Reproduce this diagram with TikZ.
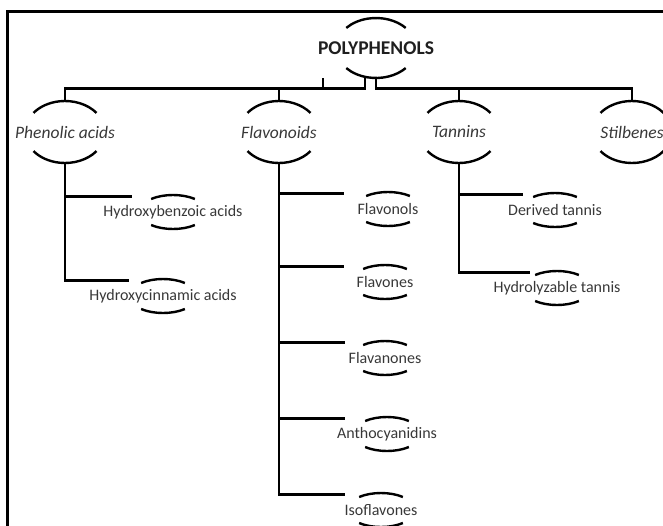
\documentclass[tikz,border=0pt]{standalone}
\usepackage{fontspec}
\setmainfont{Carlito}
\usetikzlibrary{calc}
\newcommand\lensarcs[4]{%
  \draw[arcline] ($(#1.center)+(#4:#2pt and #3pt)$) arc[start angle=#4, end angle=180-#4, x radius=#2pt, y radius=#3pt];
  \draw[arcline] ($(#1.center)+(-#4:#2pt and #3pt)$) arc[start angle=-#4, end angle=-180+#4, x radius=#2pt, y radius=#3pt];}
\begin{document}
\begin{tikzpicture}[x=1pt,y=-1pt,
  conn/.style={line width=2.7pt},
  arcline/.style={line width=2.4pt},
  frameline/.style={line width=3pt},
  lbl/.style={rectangle, inner sep=0pt, text=black!78},
  toplbl/.style={lbl, minimum height=60pt, font=\bfseries\fontsize{19.5}{22}\selectfont, text=black!88},
  midlbl/.style={lbl, minimum height=62pt, font=\itshape\fontsize{17.5}{20}\selectfont},
  leaflbl/.style={lbl, minimum height=31pt, font=\fontsize{16}{19}\selectfont}]
\useasboundingbox (0,0) rectangle (663,525);
\draw[frameline] (7,540) -- (7,11) -- (680,11);

% nodes
\node[toplbl] (poly) at (376,48) {POLYPHENOLS};
\node[midlbl] (pa) at (65,132) {Phenolic acids};
\node[midlbl] (fl) at (279,132) {Flavonoids};
\node[midlbl] (ta) at (459,132) {Tannins};
\node[midlbl] (st) at (632,132) {Stilbenes};

\node[leaflbl] (hb) at (173,212) {Hydroxybenzoic acids};
\node[leaflbl] (hc) at (163,296) {Hydroxycinnamic acids};
\node[leaflbl] (fo) at (388,209) {Flavonols};
\node[leaflbl] (fv) at (385,282) {Flavones};
\node[leaflbl] (fn) at (385,358) {Flavanones};
\node[leaflbl] (an) at (387,434) {Anthocyanidins};
\node[leaflbl] (iso) at (381,510) {Isoflavones};
\node[leaflbl] (dt) at (555,210) {Derived tannis};
\node[leaflbl] (ht) at (557,288) {Hydrolyzable tannis};

% arcs
\lensarcs{poly}{40}{30}{42}
\lensarcs{pa}{40}{31}{38}
\lensarcs{fl}{40}{31}{38}
\lensarcs{ta}{40}{31}{38}
\lensarcs{st}{40}{31}{38}
\lensarcs{hb}{34}{17}{50}
\lensarcs{hc}{34}{17}{50}
\lensarcs{fo}{34}{17}{50}
\lensarcs{fv}{34}{17}{50}
\lensarcs{fn}{34}{17}{50}
\lensarcs{an}{34}{17}{50}
\lensarcs{iso}{34}{17}{50}
\lensarcs{dt}{34}{17}{50}
\lensarcs{ht}{34}{17}{50}

% connectors
\coordinate (bus) at (0,88);
\coordinate (tick) at (323,78);
\draw[conn] ([xshift=-11pt]poly.south) -- ++(0,10) -| (pa.north);
\draw[conn] (poly.south) -- ++(0,10) -| (st.north);
\draw[conn] (tick) -- (tick |- bus);
\draw[conn] (fl.north) -- (fl.north |- bus);
\draw[conn] (ta.north) -- (ta.north |- bus);

\draw[conn] (pa.south) |- ([xshift=-34pt]hc.north);
\draw[conn] (pa.south |- hb.north) -- ([xshift=-41pt]hb.north);

\draw[conn] (fl.south) |- ([xshift=-36pt]iso.north);
\draw[conn] (fl.south |- fo.north) -- ([xshift=-44pt]fo.north);
\draw[conn] (fl.south |- fv.north) -- ([xshift=-41pt]fv.north);
\draw[conn] (fl.south |- fn.north) -- ([xshift=-40pt]fn.north);
\draw[conn] (fl.south |- an.north) -- ([xshift=-42pt]an.north);

\draw[conn] (ta.south) |- ([xshift=-27pt]ht.north);
\draw[conn] (ta.south |- dt.north) -- ([xshift=-32pt]dt.north);
\end{tikzpicture}
\end{document}
